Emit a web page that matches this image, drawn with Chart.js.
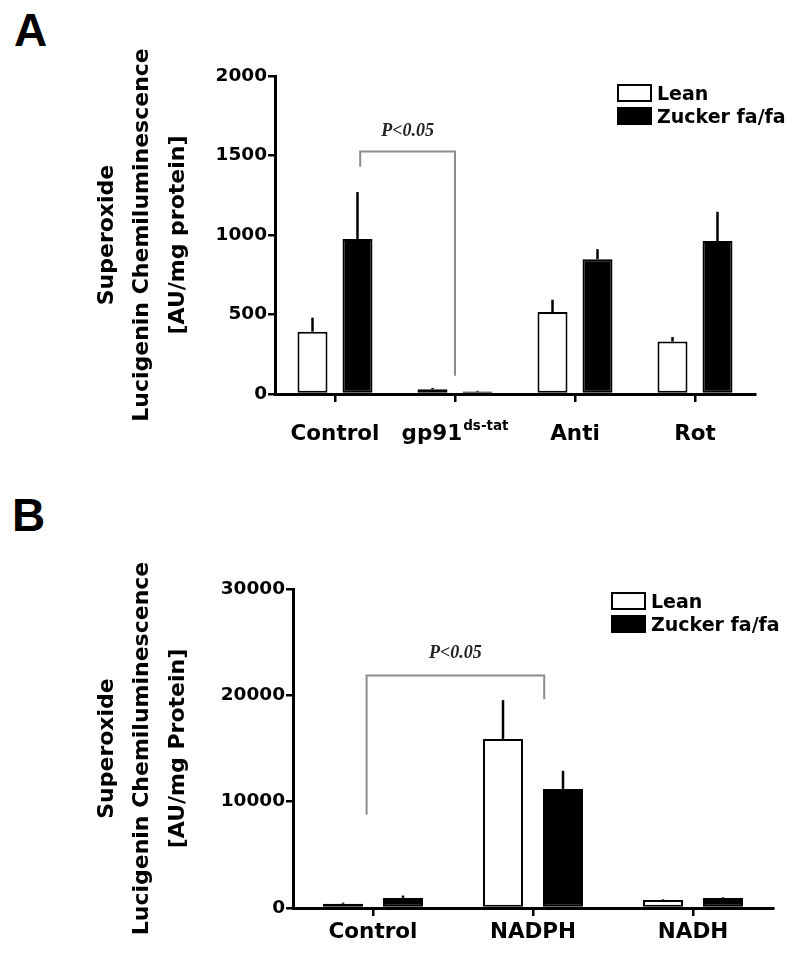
<!DOCTYPE html>
<html>
<head>
<meta charset="utf-8">
<script src="https://cdn.jsdelivr.net/npm/chart.js@4.4.0/dist/chart.umd.min.js"></script>
<style>
  body { margin: 0; background: #fff; }
  #page { position: relative; width: 800px; height: 960px; overflow: hidden; }
  .panel { position: absolute; left: 0; width: 800px; height: 480px; }
  .letter { position: absolute; font: bold 46px 'Liberation Sans', Arial, sans-serif; line-height: 46px; color: #000; }
</style>
</head>
<body>
<div id="page">
  <div class="letter" style="left:14px; top:7px;">A</div>
  <div class="letter" style="left:12px; top:492px;">B</div>
  <div class="panel" style="top:0;"><canvas id="chartA"></canvas></div>
  <div class="panel" style="top:480px;"><canvas id="chartB"></canvas></div>
</div>
<script>
// ---- data ----
const seriesNames = ['Lean', 'Zucker fa/fa'];

// panel A
const groupsA    = ['Control', 'gp91', 'Anti', 'Rot'];
const groupSupA  = ['', 'ds-tat', '', ''];
const leanA      = [392, 30, 515, 330];
const leanErrA   = [88, 8, 78, 28];
const zuckerA    = [975, 15, 848, 962];
const zuckerErrA = [295, 5, 63, 184];
const ticksA     = [0, 500, 1000, 1500, 2000];
const yTitleA    = ['Superoxide', 'Lucigenin Chemiluminescence', '[AU/mg protein]'];

// panel B
const groupsB    = ['Control', 'NADPH', 'NADH'];
const groupSupB  = ['', '', ''];
const leanB      = [400, 15900, 750];
const leanErrB   = [100, 3650, 60];
const zuckerB    = [950, 11200, 950];
const zuckerErrB = [220, 1700, 60];
const ticksB     = [0, 10000, 20000, 30000];
const yTitleB    = ['Superoxide', 'Lucigenin Chemiluminescence', '[AU/mg Protein]'];

// significance brackets (category index / data units)
const bracketA = { from: 0.21, to: 1.0, top: 1525, leftEnd: 1430, rightEnd: 114, text: 'P<0.05', textAt: 1650 };
const bracketB = { from: -0.04, to: 1.07, top: 21870, leftEnd: 8785, rightEnd: 19630, text: 'P<0.05', textAt: 23950 };

const SANS = "'DejaVu Sans', 'Liberation Sans', Arial, sans-serif";
const SERIF = "'Liberation Serif', 'Times New Roman', serif";

function errorBarPlugin(errs) {
  return {
    id: 'errorBars',
    afterDatasetsDraw(chart) {
      const ctx = chart.ctx;
      const y = chart.scales.y;
      ctx.save();
      ctx.strokeStyle = '#000';
      ctx.lineWidth = 2.5;
      chart.data.datasets.forEach((ds, i) => {
        chart.getDatasetMeta(i).data.forEach((bar, j) => {
          const top = y.getPixelForValue(ds.data[j] + errs[i][j]);
          ctx.beginPath();
          ctx.moveTo(bar.x, bar.y);
          ctx.lineTo(bar.x, top);
          ctx.stroke();
        });
      });
      ctx.restore();
    }
  };
}

function xLabelPlugin(labels, sups, baseline) {
  return {
    id: 'xLabels',
    afterDraw(chart) {
      const ctx = chart.ctx;
      const x = chart.scales.x;
      ctx.save();
      ctx.fillStyle = '#000';
      ctx.textBaseline = 'alphabetic';
      ctx.textAlign = 'left';
      labels.forEach((lab, i) => {
        const cx = x.getPixelForValue(i);
        ctx.font = 'bold 21.5px ' + SANS;
        const w1 = ctx.measureText(lab).width;
        ctx.font = 'bold 13.5px ' + SANS;
        const w2 = sups[i] ? ctx.measureText(sups[i]).width + 1 : 0;
        const start = cx - (w1 + w2) / 2;
        ctx.font = 'bold 21.5px ' + SANS;
        ctx.fillText(lab, start, baseline);
        if (sups[i]) {
          ctx.font = 'bold 13.5px ' + SANS;
          ctx.fillText(sups[i], start + w1 + 1, baseline - 10);
        }
      });
      ctx.restore();
    }
  };
}

function legendPlugin(left, top) {
  return {
    id: 'boxLegend',
    afterDraw(chart) {
      const ctx = chart.ctx;
      ctx.save();
      chart.data.datasets.forEach((ds, i) => {
        const y0 = top + i * 23;
        ctx.fillStyle = ds.backgroundColor;
        ctx.fillRect(left, y0, 35, 18);
        ctx.strokeStyle = '#000';
        ctx.lineWidth = 2;
        ctx.strokeRect(left + 1, y0 + 1, 33, 16);
        ctx.fillStyle = '#000';
        ctx.font = 'bold 19px ' + SANS;
        ctx.textBaseline = 'alphabetic';
        ctx.fillText(ds.label, left + 40, y0 + 16);
      });
      ctx.restore();
    }
  };
}

function bracketPlugin(b) {
  return {
    id: 'bracket',
    afterDatasetsDraw(chart) {
      const ctx = chart.ctx;
      const x = chart.scales.x, y = chart.scales.y;
      const x1 = x.getPixelForValue(b.from), x2 = x.getPixelForValue(b.to);
      const yt = y.getPixelForValue(b.top);
      ctx.save();
      ctx.strokeStyle = '#8c8c8c';
      ctx.lineWidth = 2;
      ctx.beginPath();
      ctx.moveTo(x1, y.getPixelForValue(b.leftEnd));
      ctx.lineTo(x1, yt);
      ctx.lineTo(x2, yt);
      ctx.lineTo(x2, y.getPixelForValue(b.rightEnd));
      ctx.stroke();
      ctx.fillStyle = '#222';
      ctx.font = 'italic bold 18px ' + SERIF;
      ctx.textAlign = 'center';
      ctx.textBaseline = 'middle';
      ctx.fillText(b.text, (x1 + x2) / 2, y.getPixelForValue(b.textAt));
      ctx.restore();
    }
  };
}

function makeChart(id, p) {
  return new Chart(document.getElementById(id), {
    type: 'bar',
    data: {
      labels: p.groups,
      datasets: [
        { label: seriesNames[0], data: p.lean, backgroundColor: '#ffffff', borderColor: '#000', borderWidth: 2, borderSkipped: false },
        { label: seriesNames[1], data: p.zucker, backgroundColor: '#000000', borderColor: '#000', borderWidth: 2, borderSkipped: false }
      ]
    },
    options: {
      responsive: true,
      maintainAspectRatio: false,
      animation: false,
      layout: { padding: { top: p.areaTop, right: 800 - p.areaRight, bottom: 0, left: 0 } },
      datasets: { bar: { categoryPercentage: 0.75, barPercentage: 0.667 } },
      plugins: { legend: { display: false }, tooltip: { enabled: false } },
      scales: {
        x: {
          grid: { display: true, offset: false, drawOnChartArea: false, drawTicks: true, tickLength: 8, color: '#000', lineWidth: 2.5 },
          border: { display: true, color: '#000', width: 3 },
          ticks: { display: false },
          afterFit(s) { s.height = 480 - p.areaBottom; }
        },
        y: {
          min: 0,
          max: p.ticks[p.ticks.length - 1],
          afterBuildTicks(s) { s.ticks = p.ticks.map(v => ({ value: v })); },
          grid: { display: true, drawOnChartArea: false, drawTicks: true, tickLength: 7, color: '#000', lineWidth: 2.5 },
          border: { display: true, color: '#000', width: 3 },
          ticks: { color: '#000', padding: 1, font: { family: SANS, weight: 'bold', size: 18.5 }, callback: v => String(v) },
          title: {
            display: true,
            text: p.yTitle,
            color: '#000',
            font: { family: SANS, weight: 'bold', size: 22, lineHeight: 1.62 },
            padding: { top: 89, bottom: 0 }
          },
          afterFit(s) { s.width = p.areaLeft; }
        }
      }
    },
    plugins: [
      errorBarPlugin([p.leanErr, p.zuckerErr]),
      xLabelPlugin(p.groups, p.sups, p.labelBaseline),
      legendPlugin(p.legendX, p.legendY),
      bracketPlugin(p.bracket)
    ]
  });
}

makeChart('chartA', {
  groups: groupsA, sups: groupSupA, lean: leanA, leanErr: leanErrA, zucker: zuckerA, zuckerErr: zuckerErrA,
  ticks: ticksA, yTitle: yTitleA, bracket: bracketA,
  areaTop: 76, areaBottom: 394, areaLeft: 275, areaRight: 755,
  labelBaseline: 440, legendX: 617, legendY: 84
});

makeChart('chartB', {
  groups: groupsB, sups: groupSupB, lean: leanB, leanErr: leanErrB, zucker: zuckerB, zuckerErr: zuckerErrB,
  ticks: ticksB, yTitle: yTitleB, bracket: bracketB,
  areaTop: 109, areaBottom: 428, areaLeft: 293, areaRight: 773,
  labelBaseline: 458, legendX: 611, legendY: 112
});
</script>
</body>
</html>
